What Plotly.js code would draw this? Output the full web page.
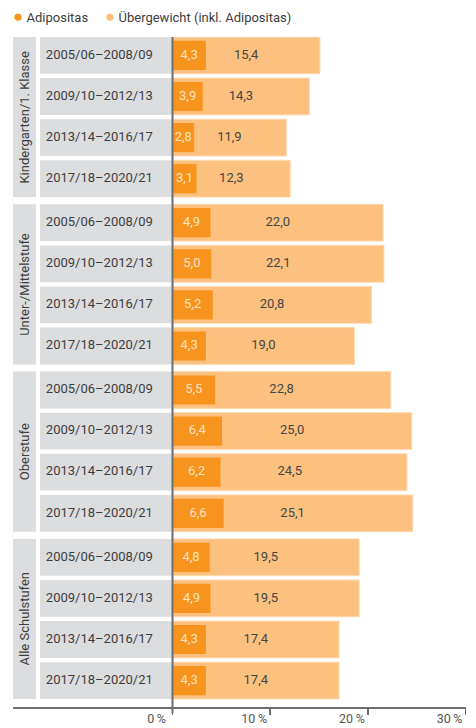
<!DOCTYPE html>
<html><head><meta charset="utf-8">
<script src="https://cdn.plot.ly/plotly-3.0.1.min.js"></script>
<style>html,body{margin:0;padding:0;background:#fff}#chart{width:476px;height:728px}</style>
</head><body><div id="chart"></div>
<script>
// ---- data ----
const groups = ["Kindergarten/1. Klasse", "Unter-/Mittelstufe", "Oberstufe", "Alle Schulstufen"];
const periods = ["2005/06–2008/09", "2009/10–2012/13", "2013/14–2016/17", "2017/18–2020/21"];
const adipositas = [4.3, 3.9, 2.8, 3.1, 4.9, 5.0, 5.2, 4.3, 5.5, 6.4, 6.2, 6.6, 4.8, 4.9, 4.3, 4.3];
const uebergewicht = [15.4, 14.3, 11.9, 12.3, 22.0, 22.1, 20.8, 19.0, 22.8, 25.0, 24.5, 25.1, 19.5, 19.5, 17.4, 17.4];
const xTicks = [0, 10, 20, 30];
const seriesNames = ["Adipositas", "Übergewicht (inkl. Adipositas)"];

// ---- styling / geometry ----
const C_DARK = "#f7941d", C_LIGHT = "#fcc17f", C_GRAY = "#dcdddf", C_TEXT = "#3d3d3d", C_AXIS = "#6d6e70";
const W = 476, H = 728, L = 13, R = 466, T = 37, B = 707;
const zeroPx = 172.5;
const sAxis = 9.77, sLight = 9.57, sDark = 7.75;
const rng = s => [-(zeroPx - L) / s, (R - zeroPx) / s];
const GAP = 0.0706, PITCH = 41.1, BOXW = 0.895, DARKW = 0.71;
const yTop = -BOXW / 2, yBottom = yTop + (B - T) / PITCH;
const fmt = v => v.toFixed(1).replace(".", ",");

const ys = [], labels = [];
groups.forEach((g, gi) => periods.forEach((p, pi) => { ys.push(gi * (4 + GAP) + pi); labels.push(p); }));
const groupY = groups.map((g, gi) => gi * (4 + GAP) + 1.5);

const boxLeft = (40 - zeroPx) / sAxis;
const grpLeft = rng(sAxis)[0];
const grpW = (36 - L) / sAxis;

const traces = [
  { type: "bar", orientation: "h", y: ys, x: ys.map(() => -boxLeft), base: boxLeft, width: BOXW,
    marker: { color: C_GRAY }, hoverinfo: "skip", showlegend: false, xaxis: "x", yaxis: "y" },
  { type: "bar", orientation: "h", y: groupY, x: groupY.map(() => grpW), base: grpLeft, width: 3 + BOXW,
    marker: { color: C_GRAY }, hoverinfo: "skip", showlegend: false, xaxis: "x", yaxis: "y" },
  { type: "bar", orientation: "h", name: seriesNames[1], y: ys, x: uebergewicht, width: BOXW,
    marker: { color: C_LIGHT, line: { color: "#fdd9b0", width: 1 } }, hoverinfo: "skip", showlegend: false, xaxis: "x2", yaxis: "y" },
  { type: "bar", orientation: "h", name: seriesNames[0], y: ys, x: adipositas, width: DARKW,
    marker: { color: C_DARK }, hoverinfo: "skip", showlegend: false, xaxis: "x3", yaxis: "y" },
  { type: "scatter", mode: "text", y: ys, x: ys.map(() => boxLeft + 0.6), text: labels, textposition: "middle right",
    textfont: { family: "Roboto", size: 13, color: C_TEXT }, hoverinfo: "skip", showlegend: false, xaxis: "x", yaxis: "y" },
  { type: "scatter", mode: "text", y: ys, x: uebergewicht.map(v => v / 2), text: uebergewicht.map(fmt), textposition: "middle center",
    textfont: { family: "Roboto", size: 13, color: "#454545" }, hoverinfo: "skip", showlegend: false, xaxis: "x2", yaxis: "y" },
  { type: "scatter", mode: "text", y: ys, x: adipositas.map(v => v / 2), text: adipositas.map(fmt), textposition: "middle center",
    textfont: { family: "Roboto", size: 13, color: "#fde2c2" }, hoverinfo: "skip", showlegend: false, xaxis: "x3", yaxis: "y" }
];

const annotations = groups.map((g, gi) => ({
  xref: "x", yref: "y", x: grpLeft + grpW / 2, y: groupY[gi], text: g, textangle: -90, showarrow: false,
  font: { family: "Roboto", size: 13, color: C_TEXT }, xanchor: "center", yanchor: "middle"
}));
const legY = (B - 16) / (B - T);
const dot = c => '<span style="color:' + c + ';font-size:17px">●</span>';
annotations.push({ xref: "paper", yref: "paper", x: -0.004, y: legY, xanchor: "left", yanchor: "middle", showarrow: false,
  text: dot(C_DARK) + ' ' + seriesNames[0], font: { family: "Roboto", size: 13, color: C_TEXT } });
annotations.push({ xref: "paper", yref: "paper", x: (103 - L) / (R - L), y: legY, xanchor: "left", yanchor: "middle", showarrow: false,
  text: dot(C_LIGHT) + ' ' + seriesNames[1], font: { family: "Roboto", size: 13, color: C_TEXT } });

const layout = {
  width: W, height: H, margin: { l: L, r: W - R, t: T, b: H - B, pad: 0 },
  paper_bgcolor: "#fff", plot_bgcolor: "#fff", barmode: "overlay", showlegend: false,
  font: { family: "Roboto", color: C_TEXT },
  xaxis: { range: rng(sAxis), tickvals: xTicks, ticktext: xTicks.map(v => v + "\u2009%"), ticks: "outside", ticklen: 6,
    tickcolor: C_AXIS, tickwidth: 1.5, showline: true, linecolor: C_AXIS, linewidth: 1.5, showgrid: false, zeroline: false,
    ticklabelshift: -16, ticklabelstandoff: -7, tickfont: { family: "Roboto", size: 12.5, color: "#555" }, fixedrange: true },
  xaxis2: { overlaying: "x", anchor: "y", range: rng(sLight), visible: false, fixedrange: true },
  xaxis3: { overlaying: "x", anchor: "y", range: rng(sDark), visible: false, fixedrange: true },
  yaxis: { range: [yBottom, yTop], showgrid: false, zeroline: false, showticklabels: false, ticks: "", showline: false, fixedrange: true },
  shapes: [{ type: "line", xref: "x", yref: "paper", x0: 0, x1: 0, y0: -6 / (B - T), y1: 1, layer: "above",
    line: { color: C_AXIS, width: 2 } }],
  annotations: annotations
};
Plotly.newPlot("chart", traces, layout, { displayModeBar: false, staticPlot: true });
</script></body></html>
